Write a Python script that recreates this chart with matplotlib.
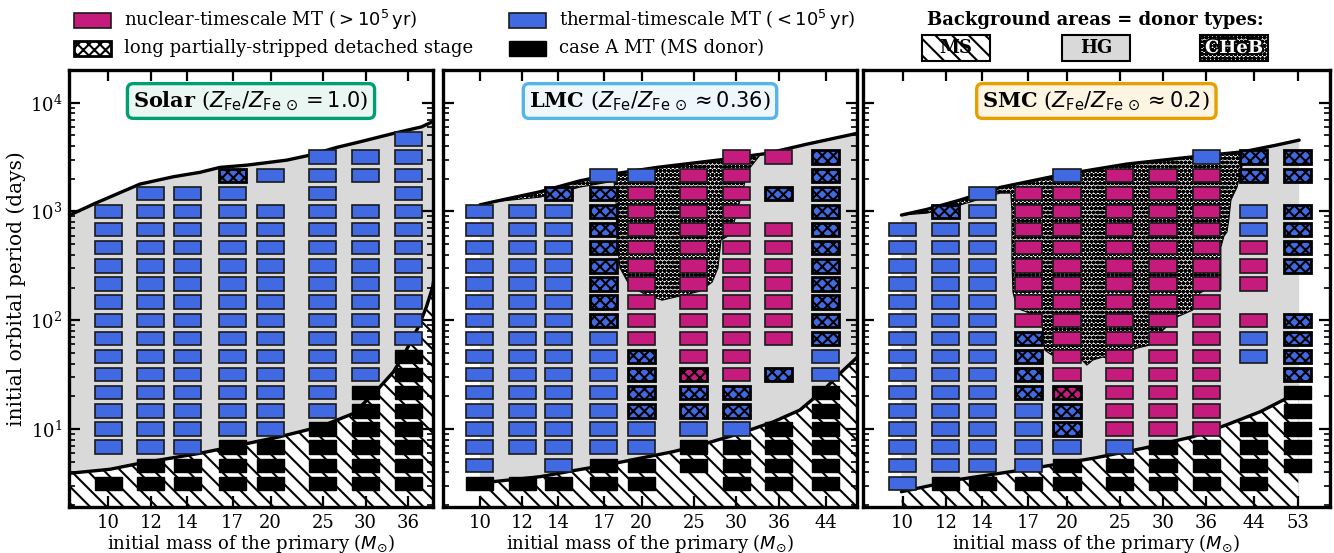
import numpy as np
import matplotlib
matplotlib.use('Agg')
import matplotlib.pyplot as plt
from matplotlib.patches import Rectangle, Polygon
from matplotlib.ticker import NullLocator
import matplotlib.patheffects as pe

plt.rcParams['font.family'] = 'DejaVu Serif'
plt.rcParams['mathtext.fontset'] = 'custom'
plt.rcParams['mathtext.rm'] = 'DejaVu Sans'
plt.rcParams['mathtext.it'] = 'DejaVu Sans:italic'
plt.rcParams['mathtext.bf'] = 'DejaVu Serif:bold'
plt.rcParams['hatch.linewidth'] = 1.5

# initial orbital periods of the model grid (days), bottom row first
periods = [3.162, 4.642, 6.813, 10.0, 14.68, 21.54, 31.62, 46.42, 68.13, 100.0,
           146.8, 215.4, 316.2, 464.2, 681.3, 1000.0, 1468.0, 2154.0, 3162.0, 4642.0]

# outcome of each model: one string per primary mass, one char per period row
# A = case A MT, T = thermal-timescale MT, N = nuclear-timescale MT,
# X / Y = long detached stage after thermal / nuclear MT, . = no model
solar_masses = [10, 12, 14, 17, 20, 25, 30, 36]
solar_outcomes = [
    "A.TTTTTTTTTTTTTT....",
    "AATTTTTTTTTTTTTTT...",
    "AATTTTTTTTTTTTTTT...",
    "AAATTTTTTTTTTTTTTX..",
    "AAATTTTTTTTTTTTT.T..",
    "AAAATTTTTTTTTTTTTTT.",
    "AAAAAATTTTTTTTTT.TT.",
    "AAAAAAAATTTTTTTTTTTT",
]
lmc_masses = [10, 12, 14, 17, 20, 25, 30, 36, 44]
lmc_outcomes = [
    "ATTTTTTTTTTTTTTT....",
    "A.TTTTTTTTTTTTTT....",
    "ATTTTTTTTTTTTTTTX...",
    "AATTTTTTTXXXXXXXXT..",
    "AATTXXXXNNNNNNNNNT..",
    ".AATXXYNNNNNNNNNNN..",
    "AAATXXNNNNNNNNNNNNN.",
    "AAAA..X.NNNNNNN.X.N.",
    "AAAAAATTXXXXXXXXXXX.",
]
smc_masses = [10, 12, 14, 17, 20, 25, 30, 36, 44, 53]
smc_outcomes = [
    "TTTTTTTTTTTTTTT.....",
    "ATTTTTTTTTTTTTTX....",
    "ATTTTTTTTTTTTTTTT...",
    "ATTTTXXXXNNNNNNNN...",
    "AATXXYNNNNNNNNNNNT..",
    "AATNNNNNNNNNNNNNNN..",
    "AAANNNNNNNNNNNNNNN..",
    "AAANNNNNNNNNNNNNNNT.",
    "AAAA...TTN.NNNTT.XX.",
    ".AAAAAXXXX..XXXX.XX.",
]

# upper edge of the interacting region (maximum period for RLOF)
solar_top_m = [8.4, 9.45, 11.45, 13.2, 14.79, 16.11, 18.06, 21.42, 23.66, 26.5, 29.3, 33.8, 38.1, 40.5]
solar_top_p = [905, 1186, 1786, 2086, 2291, 2544, 2667, 2965, 3297, 3880, 4375, 5224, 6003, 6920]
lmc_top_m = [10.0, 10.59, 12.93, 15.35, 17.97, 21.33, 28.4, 34.2, 40.6, 50.25, 52.0]
lmc_top_p = [1150, 1227, 1517, 1915, 2239, 2542, 3012, 3420, 4160, 5224, 5500]
smc_top_m = [9.95, 11.07, 12.74, 15.08, 19.42, 25.73, 34.07, 42.1, 48.4, 53.3]
smc_top_p = [927, 1045, 1274, 1664, 2163, 2729, 3184, 3541, 4077, 4531]

# boundary between main-sequence and Hertzsprung-gap donors
solar_ms_m = [8.4, 10.07, 11.45, 13.01, 14.79, 17.3, 20.8, 24.7, 28.5, 31.5, 33.8, 35.7, 37.6, 38.9, 39.95, 41.2, 43.0]
solar_ms_p = [3.9, 4.26, 4.84, 5.38, 5.98, 7.02, 8.49, 10.5, 13.9, 22.8, 33.6, 53.2, 87, 133, 203, 546, 8000]
lmc_ms_m = [10.0, 10.59, 12.93, 14.92, 17.21, 19.86, 22.9, 26.4, 30.5, 35.2, 39.4, 43.6, 46.8, 50.5, 52.0]
lmc_ms_p = [3.2, 3.28, 3.64, 4.14, 4.67, 5.38, 6.19, 7.39, 9.12, 11.67, 14.95, 22.8, 32.5, 46.3, 55]
smc_ms_m = [9.95, 12.74, 16.87, 22.35, 27.6, 34.07, 39.2, 45.2, 50.5, 53.1]
smc_ms_p = [2.65, 3.45, 4.26, 5.38, 6.65, 8.5, 10.9, 14.4, 19.1, 22.0]

# lower edge of the core-helium-burning donor area (runs into the upper edge at both ends)
lmc_cheb_m = [10.59, 12.93, 15.35, 17.76, 17.92, 17.99, 18.23, 19.02, 20.28, 21.83, 23.57, 25.68,
              27.04, 27.73, 28.1, 28.95, 29.45, 30.5, 31.55, 33.2]
lmc_cheb_p = [1227, 1355, 1675, 1901, 1274, 546, 302, 206, 174, 153, 167, 185,
              224, 302, 546, 594, 675, 1274, 2400, 3297]
smc_cheb_m = [9.97, 11.08, 12.74, 15.08, 15.79, 15.86, 15.86, 15.93, 16.20, 16.89, 17.99, 18.22,
              18.77, 21.13, 21.76, 22.32, 23.28, 24.28, 26.87, 28.39, 29.61, 31.8, 34.0, 35.05,
              36.56, 38.3, 38.3, 38.8, 39.3, 39.6, 39.96, 41.0, 42.05, 42.76]
smc_cheb_p = [927, 966, 1146, 1476, 1476, 1030, 357, 182, 129, 119, 94.3, 53.2,
              47.9, 45.0, 38.7, 43.1, 45.9, 43.1, 55.5, 59.1, 76.2, 107, 124, 178,
              198, 190, 471, 594, 647, 834, 1274, 1675, 2844, 3297]

BLUE = '#4169E1'
MAGENTA = '#C51B7D'
HG_GREY = '#D9D9D9'
CHEB_FACE = 'white'
MS_HATCH = '\\\\'
CELL_HATCH = 'xxx'
CHEB_HATCH = 'oooo'

CELL_STYLE = {
    'A': dict(fc='black', ec='black', lw=1.0),
    'T': dict(fc=BLUE, ec='#1a1a1a', lw=1.2),
    'N': dict(fc=MAGENTA, ec='#1a1a1a', lw=1.2),
    'X': dict(fc=BLUE, ec='black', lw=2.0, hatch=CELL_HATCH),
    'Y': dict(fc=MAGENTA, ec='black', lw=2.0, hatch=CELL_HATCH),
}
DX = 10 ** 0.025   # half cell width in log mass
DY = 10 ** 0.061   # half cell height in log period

W, H = 1334, 553
fig = plt.figure(figsize=(W / 100, H / 100), dpi=100)


def px_box(x0, x1, y0, y1):
    return [x0 / W, 1 - y1 / H, (x1 - x0) / W, (y1 - y0) / H]


def draw_panel(ax, masses, outcomes, top_m, top_p, ms_m, ms_p, cheb_m, cheb_p,
               xlim, name, ratio, color, face, ylabel=False):
    ax.set_xscale('log')
    ax.set_yscale('log')
    ax.set_xlim(xlim)
    ax.set_ylim(1.93, 2.0e4)

    grey = Polygon(list(zip(top_m + [top_m[-1], top_m[0]], top_p + [1.0, 1.0])),
                   closed=True, fc=HG_GREY, ec='none', zorder=0.5)
    ax.add_patch(grey)
    ms = Polygon(list(zip(ms_m + [ms_m[-1], ms_m[0]], ms_p + [1.0, 1.0])),
                 closed=True, fc='white', ec='black', lw=0, hatch=MS_HATCH, zorder=0.6)
    ax.add_patch(ms)
    ms.set_clip_path(grey)

    if cheb_m:
        upper = [(m, p) for m, p in zip(top_m, top_p) if cheb_m[0] < m < cheb_m[-1]][::-1]
        verts = list(zip(cheb_m, cheb_p)) + upper
        ax.add_patch(Polygon(verts, closed=True, fc=CHEB_FACE, ec='black', lw=0.8,
                             hatch=CHEB_HATCH, zorder=0.8))

    ax.plot(top_m, top_p, color='black', lw=2.4, zorder=2, solid_capstyle='round')
    ax.plot(ms_m, ms_p, color='black', lw=2.4, zorder=2, solid_capstyle='round')

    for m, col in zip(masses, outcomes):
        for p, code in zip(periods, col):
            if code == '.':
                continue
            ax.add_patch(Rectangle((m / DX, p / DY), m * (DX - 1 / DX), p * (DY - 1 / DY),
                                   zorder=3, **CELL_STYLE[code]))

    ax.set_xticks(masses)
    ax.set_xticklabels([str(m) for m in masses])
    ax.xaxis.set_minor_locator(NullLocator())
    ax.tick_params(which='both', direction='in', top=True, right=True, labelsize=13)
    ax.tick_params(which='major', length=8, width=1.6)
    ax.tick_params(which='minor', length=4.5, width=1.2)
    ax.tick_params(axis='x', pad=5)
    ax.tick_params(axis='y', pad=5, labelleft=ylabel)
    for s in ax.spines.values():
        s.set_linewidth(2.4)
        s.set_zorder(5)
    ax.set_xlabel(r'initial mass of the primary ($M_{\odot}$)', fontsize=13, labelpad=0)
    if ylabel:
        ax.set_ylabel('initial orbital period (days)', fontsize=14.5, labelpad=3)

    ax.text(0.5, 0.929, r'$\mathbf{' + name + r'}$ ($Z_{\rm Fe}/Z_{\rm Fe\,\odot}' + ratio + '$)',
            transform=ax.transAxes, ha='center', va='center', fontsize=15, zorder=10,
            bbox=dict(boxstyle='round,pad=0.28', fc=face, ec=color, lw=2.4))


ax_solar = fig.add_axes(px_box(69.3, 432.7, 70, 506.7))
ax_lmc = fig.add_axes(px_box(443.3, 856.7, 70, 506.7))
ax_smc = fig.add_axes(px_box(862.7, 1330, 70, 506.7))

draw_panel(ax_solar, solar_masses, solar_outcomes, solar_top_m, solar_top_p,
           solar_ms_m, solar_ms_p, [], [], (8.47, 39.95), 'Solar', r' = 1.0',
           '#009E73', '#EAF6F1', ylabel=True)
draw_panel(ax_lmc, lmc_masses, lmc_outcomes, lmc_top_m, lmc_top_p,
           lmc_ms_m, lmc_ms_p, lmc_cheb_m, lmc_cheb_p, (8.55, 50.25), 'LMC', r' \approx 0.36',
           '#56B4E9', '#EEF7FC')
draw_panel(ax_smc, smc_masses, smc_outcomes, smc_top_m, smc_top_p,
           smc_ms_m, smc_ms_p, smc_cheb_m, smc_cheb_p, (8.45, 60.7), 'SMC', r' \approx 0.2',
           '#E69F00', '#FDF5E1')


# legend for the model outcomes
def fig_rect(cx, cy, w, h, **kw):
    fig.add_artist(Rectangle(((cx - w / 2) / W, 1 - (cy + h / 2) / H), w / W, h / H,
                             transform=fig.transFigure, **kw))


legend_entries = [
    (92, 20, dict(fc=MAGENTA, ec='#1a1a1a', lw=1.2), r'nuclear-timescale MT ($>10^5\,{\rm yr}$)'),
    (92, 48, dict(fc='white', ec='black', lw=2.0, hatch=CELL_HATCH), 'long partially-stripped detached stage'),
    (527, 20, dict(fc=BLUE, ec='#1a1a1a', lw=1.2), r'thermal-timescale MT ($<10^5\,{\rm yr}$)'),
    (527, 48, dict(fc='black', ec='black', lw=1.0), 'case A MT (MS donor)'),
]
for cx, cy, style, text in legend_entries:
    fig_rect(cx, cy, 37, 15, **style)
    fig.text((cx + 32) / W, 1 - cy / H, text, ha='left', va='center', fontsize=13)

# legend for the donor-type background areas
fig.text(1095 / W, 1 - 20 / H, 'Background areas = donor types:', ha='center', va='center',
         fontsize=13, fontweight='bold')
fig_rect(956, 48, 68, 25, fc='white', ec='black', lw=1.5, hatch=MS_HATCH)
fig_rect(1096, 48, 68, 25, fc=HG_GREY, ec='black', lw=1.5)
fig_rect(1234, 48, 68, 25, fc=CHEB_FACE, ec='black', lw=1.5, hatch=CHEB_HATCH)
fig.text(956 / W, 1 - 48 / H, 'MS', ha='center', va='center', fontsize=13, fontweight='bold')
fig.text(1096 / W, 1 - 48 / H, 'HG', ha='center', va='center', fontsize=13, fontweight='bold')
fig.text(1234 / W, 1 - 48 / H, 'CHeB', ha='center', va='center', fontsize=13, fontweight='bold',
         color='white', path_effects=[pe.withStroke(linewidth=2.5, foreground='black')])

fig.savefig('out.png', dpi=100)
